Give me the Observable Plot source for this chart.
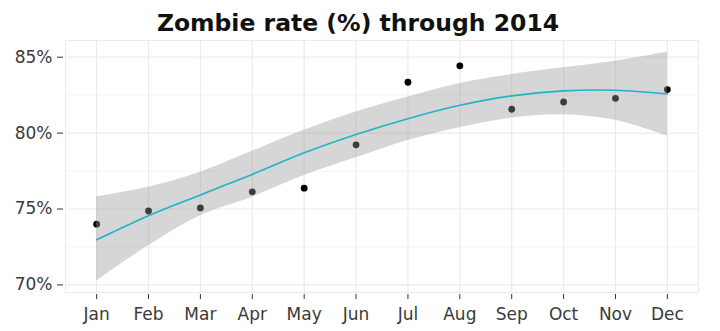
<!DOCTYPE html>
<html>
<head>
<meta charset="utf-8">
<script src="https://cdn.jsdelivr.net/npm/d3@7"></script>
<script src="https://cdn.jsdelivr.net/npm/@observablehq/plot@0.6"></script>
<style>
  html, body { margin: 0; padding: 0; background: #fff; }
  #title { height: 38px; line-height: 47px; overflow: visible; white-space: nowrap; text-align: center; font-family: "DejaVu Sans", sans-serif; font-weight: 700; font-size: 23.5px; color: #111; padding-right: 4px; }
  svg { display: block; }
</style>
</head>
<body>
<div id="title">Zombie rate (%) through 2014</div>
<div id="chart"></div>
<script>
const months = ["Jan","Feb","Mar","Apr","May","Jun","Jul","Aug","Sep","Oct","Nov","Dec"];
const rate = [74.0, 74.87, 75.07, 76.13, 76.37, 79.23, 83.35, 84.43, 81.57, 82.05, 82.29, 82.87];
const fit  = [72.97, 74.56, 75.93, 77.28, 78.70, 79.91, 80.95, 81.83, 82.45, 82.78, 82.82, 82.58];
const lo   = [70.26, 72.58, 74.56, 75.78, 77.20, 78.37, 79.52, 80.36, 80.99, 81.21, 80.84, 79.80];
const hi   = [75.80, 76.43, 77.42, 78.80, 80.18, 81.39, 82.38, 83.27, 83.86, 84.30, 84.74, 85.35];
const yTicks = [70, 75, 80, 85];
const yMinor = [72.5, 77.5, 82.5];

const data = months.map((m, i) => ({month: m, rate: rate[i], fit: fit[i], lo: lo[i], hi: hi[i]}));

const chart = Plot.plot({
  width: 720,
  height: 293,
  marginLeft: 65,
  marginRight: 22,
  marginTop: 2,
  marginBottom: 39,
  style: {fontFamily: "'DejaVu Sans', sans-serif", fontSize: "17px", color: "#3a3a3a", background: "#fff"},
  x: {type: "point", domain: months, padding: 0.6, round: false, label: null},
  y: {domain: [69.5, 86.1], label: null},
  marks: [
    Plot.frame({stroke: "#ebebeb", strokeWidth: 1}),
    Plot.gridY(yMinor, {stroke: "#f4f4f4", strokeOpacity: 1, strokeWidth: 1}),
    Plot.gridY(yTicks, {stroke: "#ebebeb", strokeOpacity: 1, strokeWidth: 1.2}),
    Plot.gridX(months, {stroke: "#ebebeb", strokeOpacity: 1, strokeWidth: 1.2}),
    Plot.dot(data, {x: "month", y: "rate", r: 3.4, fill: "#000", stroke: null}),
    Plot.areaY(data, {x: "month", y1: "lo", y2: "hi", fill: "#999999", fillOpacity: 0.4, curve: "catmull-rom"}),
    Plot.lineY(data, {x: "month", y: "fit", stroke: "#1fb3c6", strokeWidth: 1.6, curve: "catmull-rom"}),
    Plot.axisX({tickSize: 5, tickPadding: 8, dy: 2, stroke: "#333", fill: "#3a3a3a", label: null}),
    Plot.axisY(yTicks, {tickSize: 6, tickPadding: 5, dx: -2, stroke: "#333", fill: "#3a3a3a", tickFormat: d => d + "%", label: null})
  ]
});
document.getElementById("chart").appendChild(chart);
</script>
</body>
</html>
